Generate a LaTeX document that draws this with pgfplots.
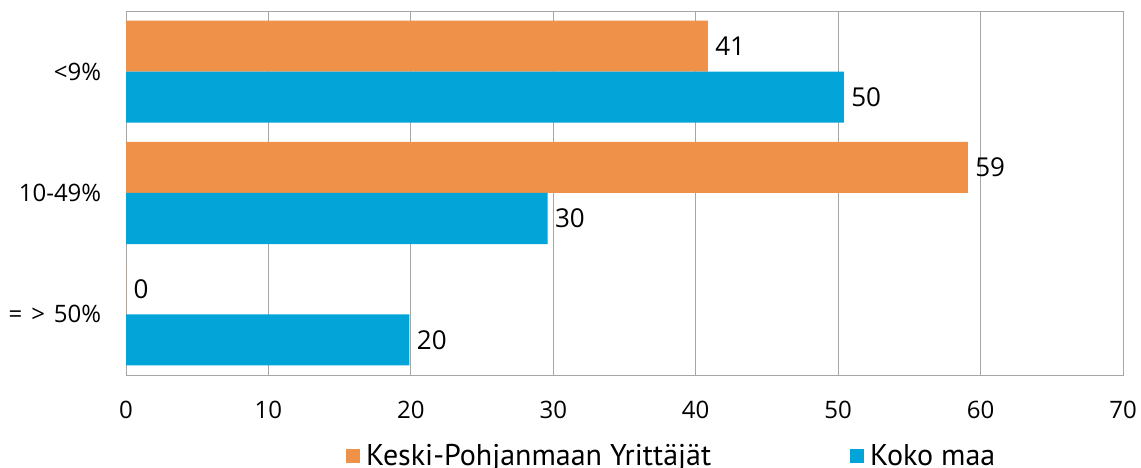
\documentclass[border=0pt]{standalone}
\usepackage{pgfplots}
\pgfplotsset{compat=1.18}
\usepackage{fontspec}
\setmainfont{Open Sans}
\newfontfamily\legfont{PT Sans}
\definecolor{kpo}{RGB}{240,145,74}
\definecolor{kmb}{RGB}{3,165,217}
\definecolor{gridc}{RGB}{166,166,166}
\pgfplotsset{/pgf/number format/assume math mode=true}
\begin{document}
\begin{tikzpicture}[x=1pt,y=1pt]
\path[use as bounding box] (0,0) rectangle (1141,468);
\begin{axis}[
  at={(126pt,93pt)}, anchor=south west,
  scale only axis, width=997pt, height=364pt,
  xmin=0, xmax=70, ymin=-0.5, ymax=2.5, y dir=reverse,
  xtick={0,10,...,70}, ytick={0,1,2},
  yticklabels={{<9\%},{10-49\%},{=\hspace{9pt}>\hspace{9pt}50\%}},
  xmajorgrids, major grid style={gridc, line width=0.8pt},
  axis line style={gridc, line width=0.8pt},
  tick style={draw=none},
  ticklabel style={font=\fontsize{24}{28}\selectfont},
  xticklabel style={yshift=-23pt},
  yticklabel style={xshift=-17pt},
  xbar, bar width=51pt,
  nodes near coords,
  nodes near coords style={font=\fontsize{26}{30}\selectfont, anchor=west, xshift=4pt,
    /pgf/number format/fixed, /pgf/number format/precision=0, text=black},
  legend columns=2,
  legend style={draw=none, font=\legfont\fontsize{30}{32}\selectfont,
    at={(0.2176,0)}, anchor=north west, yshift=-65pt},
  legend image code/.code={\fill[#1] (0pt,-7pt) rectangle (14pt,7pt); \path (18pt,0pt);},
]
\addplot[fill=kpo, draw=none, bar shift=25.5pt] coordinates {(40.85,0) (59.1,1) (0,2)};
\addlegendentry{\makebox[482pt][l]{Keski-Pohjanmaan Yrittäjät}}
\addplot[fill=kmb, draw=none, bar shift=-25.5pt] coordinates {(50.4,0) (29.6,1) (19.9,2)};
\addlegendentry{Koko maa}
\end{axis}
\end{tikzpicture}
\end{document}
